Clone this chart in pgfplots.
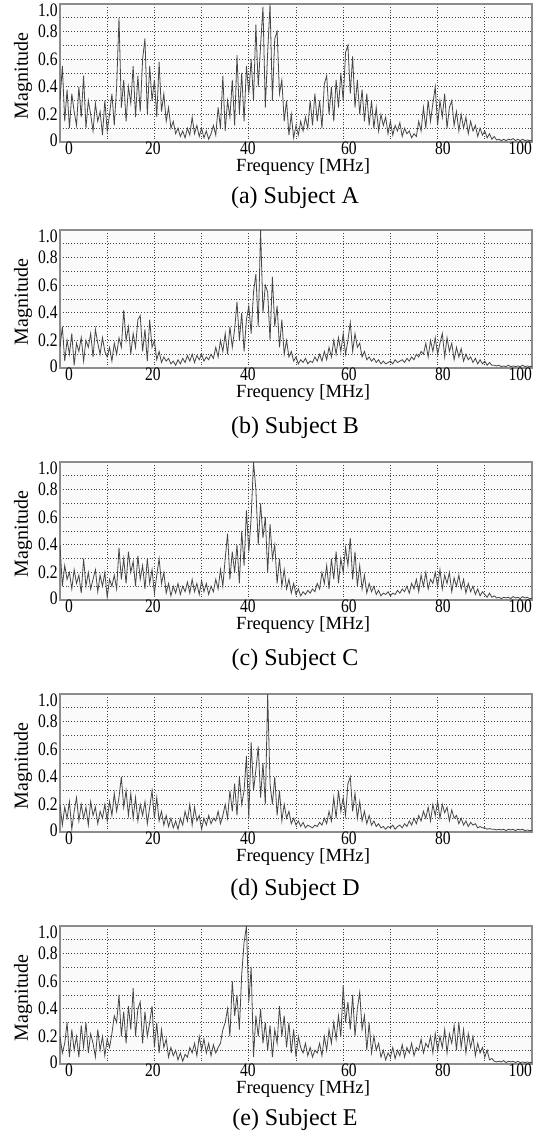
\documentclass[border=0pt]{standalone}
\usepackage{fontspec}
\setmainfont{Liberation Serif}
\newfontfamily\tickfont[FakeStretch=0.82]{Liberation Serif}
\usepackage{pgfplots}
\pgfplotsset{compat=1.18}

\pgfplotsset{
  spec/.style={
    anchor=north west, scale only axis, width=236pt, height=69pt,
    xmin=0, xmax=100, ymin=0, ymax=1,
    xtick={1.9,19.7,39.8,61.2,81.1,97.5},
    xticklabels={0,20,40,60,80,100},
    minor xtick={10,20,...,90},
    ytick={0.015,0.2,0.4,0.6,0.8,0.955},
    yticklabels={0,0.2,0.4,0.6,0.8,1.0},
    minor ytick={0.1,0.2,0.3,0.4,0.5,0.6,0.7,0.8,0.9},
    xminorgrids, yminorgrids,
    minor grid style={black!75, densely dotted, line width=0.45pt},
    major tick length=0pt, minor tick length=0pt,
    axis line style={black!45, line width=0.7pt},
    axis background/.style={fill=black!2},
    tick label style={font=\tickfont\fontsize{9.5}{10}\selectfont},
    xticklabel style={yshift=1.2pt, inner ysep=1pt},
    yticklabel style={inner xsep=1pt},
    xlabel={Frequency [MHz]},
    xlabel style={at={(axis description cs:0.515,-0.178)}, anchor=center,
                  font=\fontsize{9.3}{10}\selectfont},
    ylabel={Magnitude},
    ylabel style={at={(axis description cs:-0.078,0.48)}, anchor=center,
                  font=\fontsize{10}{11}\selectfont},
  },
  spline/.style={black!72, line width=0.4pt, mark=none},
}
\newcommand{\subcap}[2]{\node[font=\fontsize{12}{14}\selectfont] at (147.5pt,#1) {#2};}

\begin{document}
\begin{tikzpicture}
\useasboundingbox (0,0) rectangle (275pt,-568.5pt);

% (a) Subject A
\begin{axis}[spec, at={(30pt,-2pt)}]
\addplot[spline] table[row sep=\\, header=false, x expr=\coordindex*0.5, y index=0] {
0.30\\0.55\\0.15\\0.38\\0.10\\0.35\\0.22\\0.12\\0.40\\0.18\\0.48\\0.10\\0.30\\0.20\\0.08\\0.28\\0.15\\0.22\\0.05\\0.30\\
0.08\\0.20\\0.35\\0.12\\0.40\\0.90\\0.25\\0.45\\0.15\\0.40\\0.28\\0.55\\0.18\\0.48\\0.22\\0.60\\0.75\\0.20\\0.55\\0.30\\
0.45\\0.18\\0.58\\0.22\\0.35\\0.15\\0.25\\0.10\\0.15\\0.06\\0.10\\0.04\\0.08\\0.03\\0.10\\0.05\\0.18\\0.06\\0.12\\0.04\\
0.10\\0.03\\0.08\\0.02\\0.06\\0.12\\0.05\\0.25\\0.10\\0.48\\0.08\\0.30\\0.18\\0.45\\0.12\\0.63\\0.20\\0.50\\0.15\\0.55\\
0.35\\0.60\\0.30\\0.85\\0.40\\0.70\\0.98\\0.25\\0.65\\1.00\\0.30\\0.75\\0.80\\0.35\\0.45\\0.15\\0.30\\0.05\\0.20\\0.03\\
0.12\\0.05\\0.15\\0.08\\0.18\\0.10\\0.30\\0.12\\0.35\\0.15\\0.30\\0.10\\0.42\\0.48\\0.20\\0.40\\0.15\\0.45\\0.25\\0.50\\
0.30\\0.65\\0.70\\0.35\\0.62\\0.25\\0.45\\0.20\\0.38\\0.15\\0.35\\0.12\\0.30\\0.10\\0.25\\0.08\\0.20\\0.12\\0.18\\0.06\\
0.15\\0.05\\0.12\\0.08\\0.14\\0.04\\0.10\\0.06\\0.08\\0.03\\0.06\\0.04\\0.15\\0.08\\0.25\\0.10\\0.30\\0.15\\0.28\\0.40\\
0.12\\0.30\\0.18\\0.35\\0.10\\0.25\\0.30\\0.12\\0.22\\0.08\\0.20\\0.10\\0.18\\0.06\\0.15\\0.08\\0.12\\0.04\\0.10\\0.05\\
0.08\\0.03\\0.06\\0.02\\0.04\\0.015\\0.02\\0.01\\0.02\\0.01\\0.02\\0.015\\0.025\\0.01\\0.02\\0.01\\0.02\\0.01\\0.015\\0.01\\
0.01\\
};
\end{axis}
\subcap{-99pt}{(a) Subject A}

% (b) Subject B
\begin{axis}[spec, at={(30pt,-115pt)}]
\addplot[spline] table[row sep=\\, header=false, x expr=\coordindex*0.5, y index=0] {
0.15\\0.30\\0.05\\0.20\\0.10\\0.25\\0.02\\0.18\\0.12\\0.22\\0.05\\0.20\\0.15\\0.25\\0.08\\0.28\\0.18\\0.10\\0.22\\0.12\\
0.08\\0.15\\0.05\\0.18\\0.10\\0.22\\0.15\\0.42\\0.20\\0.30\\0.10\\0.25\\0.15\\0.35\\0.38\\0.12\\0.28\\0.05\\0.35\\0.15\\
0.20\\0.06\\0.12\\0.04\\0.08\\0.05\\0.07\\0.03\\0.05\\0.02\\0.06\\0.03\\0.07\\0.04\\0.09\\0.05\\0.10\\0.04\\0.09\\0.06\\
0.10\\0.05\\0.08\\0.06\\0.10\\0.07\\0.15\\0.08\\0.20\\0.12\\0.25\\0.10\\0.30\\0.15\\0.28\\0.48\\0.20\\0.40\\0.12\\0.35\\
0.45\\0.25\\0.55\\0.68\\0.30\\1.00\\0.40\\0.60\\0.55\\0.20\\0.66\\0.30\\0.45\\0.15\\0.35\\0.10\\0.20\\0.08\\0.12\\0.05\\
0.08\\0.03\\0.06\\0.04\\0.07\\0.03\\0.05\\0.04\\0.08\\0.05\\0.10\\0.05\\0.12\\0.06\\0.15\\0.08\\0.20\\0.10\\0.22\\0.12\\
0.25\\0.10\\0.20\\0.33\\0.12\\0.25\\0.15\\0.18\\0.08\\0.12\\0.06\\0.08\\0.05\\0.07\\0.04\\0.06\\0.03\\0.05\\0.03\\0.04\\
0.05\\0.03\\0.06\\0.04\\0.05\\0.06\\0.04\\0.07\\0.05\\0.08\\0.06\\0.10\\0.08\\0.12\\0.10\\0.18\\0.08\\0.20\\0.12\\0.22\\
0.10\\0.18\\0.25\\0.08\\0.22\\0.12\\0.18\\0.06\\0.15\\0.08\\0.14\\0.05\\0.10\\0.06\\0.08\\0.04\\0.07\\0.03\\0.06\\0.03\\
0.05\\0.02\\0.04\\0.02\\0.02\\0.015\\0.02\\0.01\\0.015\\0.01\\0.02\\0.01\\0.015\\0.01\\0.015\\0.01\\0.02\\0.01\\0.015\\0.01\\
0.01\\
};
\end{axis}
\subcap{-214pt}{(b) Subject B}

% (c) Subject C
\begin{axis}[spec, at={(30pt,-231pt)}]
\addplot[spline] table[row sep=\\, header=false, x expr=\coordindex*0.5, y index=0] {
0.40\\0.10\\0.25\\0.15\\0.20\\0.08\\0.22\\0.12\\0.18\\0.05\\0.30\\0.10\\0.20\\0.08\\0.15\\0.22\\0.06\\0.18\\0.10\\0.20\\
0.02\\0.15\\0.10\\0.18\\0.08\\0.38\\0.15\\0.30\\0.12\\0.35\\0.20\\0.28\\0.10\\0.32\\0.15\\0.25\\0.08\\0.30\\0.12\\0.22\\
0.05\\0.18\\0.30\\0.12\\0.20\\0.05\\0.12\\0.03\\0.10\\0.05\\0.12\\0.04\\0.10\\0.06\\0.13\\0.05\\0.15\\0.06\\0.12\\0.04\\
0.14\\0.06\\0.12\\0.04\\0.10\\0.06\\0.15\\0.08\\0.22\\0.10\\0.30\\0.48\\0.15\\0.35\\0.20\\0.40\\0.12\\0.50\\0.25\\0.65\\
0.35\\0.60\\1.00\\0.80\\0.40\\0.70\\0.45\\0.60\\0.20\\0.55\\0.30\\0.40\\0.12\\0.30\\0.10\\0.22\\0.08\\0.15\\0.05\\0.12\\
0.04\\0.08\\0.03\\0.06\\0.04\\0.07\\0.05\\0.08\\0.06\\0.12\\0.08\\0.20\\0.12\\0.25\\0.08\\0.30\\0.15\\0.35\\0.12\\0.30\\
0.20\\0.38\\0.25\\0.45\\0.15\\0.35\\0.10\\0.25\\0.08\\0.18\\0.05\\0.12\\0.06\\0.10\\0.04\\0.07\\0.03\\0.05\\0.04\\0.06\\
0.03\\0.05\\0.04\\0.07\\0.05\\0.08\\0.06\\0.10\\0.05\\0.12\\0.08\\0.15\\0.06\\0.18\\0.10\\0.20\\0.08\\0.15\\0.12\\0.20\\
0.10\\0.22\\0.08\\0.18\\0.12\\0.20\\0.06\\0.16\\0.10\\0.18\\0.08\\0.15\\0.05\\0.12\\0.06\\0.10\\0.04\\0.08\\0.03\\0.06\\
0.04\\0.02\\0.05\\0.02\\0.03\\0.015\\0.02\\0.01\\0.02\\0.015\\0.02\\0.01\\0.025\\0.015\\0.02\\0.01\\0.025\\0.015\\0.02\\0.01\\
0.01\\
};
\end{axis}
\subcap{-330pt}{(c) Subject C}

% (d) Subject D
\begin{axis}[spec, at={(30pt,-347pt)},
  xtick={1.9,19.7,39.8,61.2,81.1}, xticklabels={0,20,40,60,80}]
\addplot[spline] table[row sep=\\, header=false, x expr=\coordindex*0.5, y index=0] {
0.20\\0.05\\0.18\\0.10\\0.22\\0.02\\0.15\\0.25\\0.08\\0.20\\0.10\\0.18\\0.05\\0.22\\0.12\\0.18\\0.06\\0.15\\0.10\\0.20\\
0.08\\0.22\\0.12\\0.28\\0.15\\0.25\\0.40\\0.18\\0.30\\0.12\\0.28\\0.10\\0.25\\0.08\\0.20\\0.12\\0.22\\0.06\\0.18\\0.30\\
0.10\\0.25\\0.08\\0.15\\0.05\\0.12\\0.04\\0.10\\0.03\\0.08\\0.02\\0.10\\0.05\\0.15\\0.08\\0.20\\0.05\\0.18\\0.08\\0.12\\
0.02\\0.10\\0.05\\0.12\\0.06\\0.10\\0.08\\0.15\\0.06\\0.12\\0.20\\0.10\\0.30\\0.15\\0.35\\0.12\\0.40\\0.20\\0.30\\0.55\\
0.10\\0.65\\0.30\\0.45\\0.62\\0.25\\0.50\\0.20\\1.00\\0.35\\0.20\\0.40\\0.12\\0.30\\0.08\\0.20\\0.10\\0.15\\0.06\\0.10\\
0.05\\0.08\\0.04\\0.07\\0.03\\0.05\\0.04\\0.03\\0.05\\0.04\\0.07\\0.05\\0.10\\0.06\\0.15\\0.08\\0.25\\0.10\\0.30\\0.15\\
0.25\\0.12\\0.35\\0.40\\0.15\\0.28\\0.10\\0.22\\0.08\\0.15\\0.06\\0.12\\0.05\\0.08\\0.04\\0.06\\0.03\\0.04\\0.02\\0.04\\
0.03\\0.05\\0.02\\0.04\\0.05\\0.03\\0.06\\0.04\\0.08\\0.05\\0.10\\0.06\\0.12\\0.08\\0.15\\0.10\\0.18\\0.08\\0.20\\0.12\\
0.22\\0.10\\0.20\\0.14\\0.18\\0.08\\0.16\\0.10\\0.12\\0.06\\0.10\\0.05\\0.08\\0.04\\0.07\\0.05\\0.06\\0.03\\0.04\\0.03\\
0.03\\0.02\\0.025\\0.02\\0.02\\0.015\\0.02\\0.015\\0.02\\0.01\\0.02\\0.015\\0.02\\0.01\\0.02\\0.015\\0.02\\0.01\\0.015\\0.01\\
0.01\\
};
\end{axis}
\subcap{-445pt}{(d) Subject D}

% (e) Subject E
\begin{axis}[spec, at={(30pt,-463pt)}]
\addplot[spline] table[row sep=\\, header=false, x expr=\coordindex*0.5, y index=0] {
0.20\\0.08\\0.15\\0.30\\0.05\\0.25\\0.10\\0.20\\0.05\\0.28\\0.12\\0.30\\0.08\\0.22\\0.15\\0.05\\0.25\\0.10\\0.20\\0.06\\
0.18\\0.12\\0.22\\0.35\\0.30\\0.50\\0.20\\0.38\\0.15\\0.42\\0.25\\0.55\\0.20\\0.40\\0.45\\0.15\\0.38\\0.20\\0.30\\0.42\\
0.12\\0.30\\0.08\\0.25\\0.12\\0.18\\0.05\\0.12\\0.06\\0.10\\0.03\\0.08\\0.02\\0.07\\0.05\\0.12\\0.08\\0.15\\0.06\\0.20\\
0.10\\0.18\\0.08\\0.15\\0.06\\0.14\\0.08\\0.12\\0.15\\0.25\\0.30\\0.40\\0.20\\0.60\\0.35\\0.50\\0.25\\0.65\\0.88\\1.00\\
0.45\\0.70\\0.05\\0.35\\0.20\\0.40\\0.15\\0.30\\0.10\\0.28\\0.05\\0.25\\0.15\\0.42\\0.20\\0.35\\0.12\\0.30\\0.08\\0.25\\
0.05\\0.20\\0.12\\0.08\\0.15\\0.06\\0.12\\0.05\\0.10\\0.08\\0.15\\0.06\\0.20\\0.10\\0.25\\0.15\\0.30\\0.18\\0.35\\0.20\\
0.57\\0.30\\0.45\\0.25\\0.50\\0.20\\0.40\\0.52\\0.25\\0.35\\0.10\\0.30\\0.08\\0.20\\0.10\\0.15\\0.05\\0.10\\0.03\\0.08\\
0.05\\0.12\\0.04\\0.10\\0.06\\0.14\\0.05\\0.12\\0.08\\0.15\\0.06\\0.12\\0.10\\0.18\\0.08\\0.15\\0.12\\0.20\\0.08\\0.22\\
0.10\\0.20\\0.12\\0.25\\0.08\\0.22\\0.15\\0.28\\0.10\\0.30\\0.12\\0.25\\0.08\\0.22\\0.12\\0.20\\0.06\\0.15\\0.08\\0.12\\
0.05\\0.10\\0.03\\0.04\\0.02\\0.015\\0.02\\0.015\\0.025\\0.01\\0.02\\0.015\\0.02\\0.01\\0.02\\0.01\\0.015\\0.01\\0.015\\0.01\\
0.01\\
};
\end{axis}
\subcap{-560pt}{(e) Subject E}

\end{tikzpicture}
\end{document}
